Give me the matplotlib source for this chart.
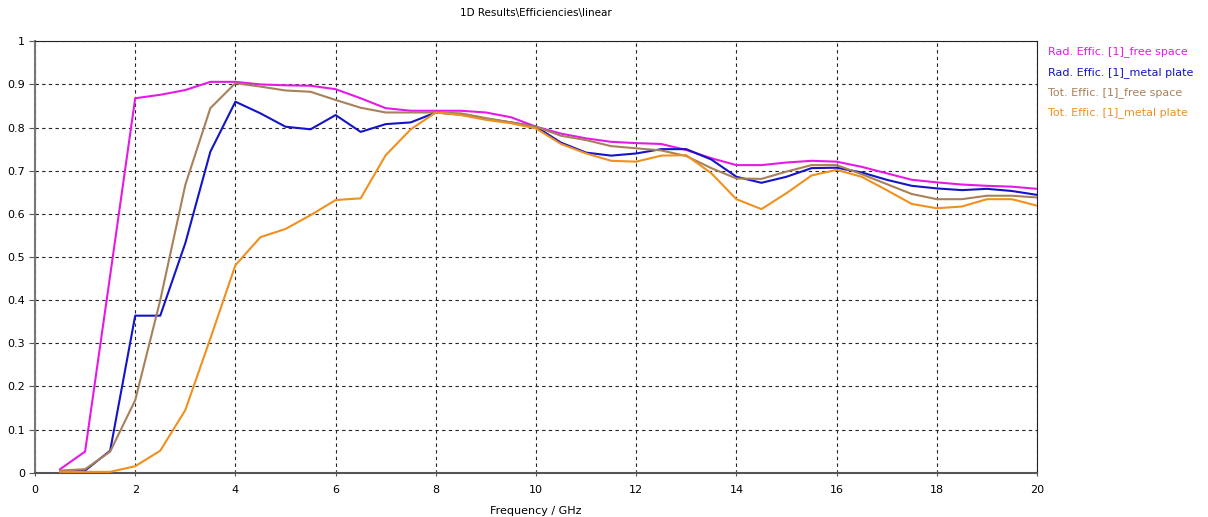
import matplotlib
matplotlib.use("Agg")
import matplotlib.pyplot as plt
import numpy as np

freq = [0.5, 1.0, 1.5, 2.0, 2.5, 3.0, 3.5, 4.0, 4.5, 5.0, 5.5, 6.0, 6.5, 7.0, 7.5, 8.0,
        8.5, 9.0, 9.5, 10.0, 10.5, 11.0, 11.5, 12.0, 12.5, 13.0, 13.5, 14.0, 14.5, 15.0,
        15.5, 16.0, 16.5, 17.0, 17.5, 18.0, 18.5, 19.0, 19.5, 20.0]

rad_free = [0.008, 0.049, 0.457, 0.868, 0.876, 0.887, 0.906, 0.906, 0.900, 0.898, 0.897,
            0.889, 0.868, 0.845, 0.839, 0.839, 0.839, 0.835, 0.824, 0.802, 0.786, 0.775,
            0.767, 0.764, 0.762, 0.748, 0.729, 0.713, 0.713, 0.719, 0.723, 0.721, 0.709,
            0.694, 0.679, 0.673, 0.668, 0.665, 0.663, 0.658]

rad_metal = [0.002, 0.005, 0.051, 0.364, 0.364, 0.532, 0.744, 0.860, 0.833, 0.802, 0.796,
             0.829, 0.790, 0.808, 0.812, 0.835, 0.830, 0.820, 0.812, 0.802, 0.765, 0.742,
             0.735, 0.740, 0.750, 0.750, 0.726, 0.686, 0.672, 0.686, 0.706, 0.707, 0.696,
             0.679, 0.665, 0.659, 0.655, 0.658, 0.653, 0.644]

tot_free = [0.005, 0.008, 0.049, 0.168, 0.400, 0.667, 0.845, 0.903, 0.895, 0.886, 0.883,
            0.864, 0.846, 0.835, 0.835, 0.835, 0.833, 0.822, 0.812, 0.802, 0.781, 0.771,
            0.757, 0.752, 0.747, 0.734, 0.706, 0.682, 0.681, 0.698, 0.713, 0.713, 0.692,
            0.669, 0.646, 0.634, 0.634, 0.642, 0.642, 0.638]

tot_metal = [0.002, 0.002, 0.002, 0.015, 0.051, 0.145, 0.311, 0.481, 0.546, 0.565, 0.597,
             0.632, 0.636, 0.736, 0.796, 0.835, 0.829, 0.818, 0.810, 0.798, 0.762, 0.740,
             0.723, 0.721, 0.735, 0.736, 0.694, 0.634, 0.611, 0.648, 0.689, 0.702, 0.686,
             0.655, 0.623, 0.613, 0.617, 0.634, 0.634, 0.619]

labels = ["Rad. Effic. [1]_free space", "Rad. Effic. [1]_metal plate",
          "Tot. Effic. [1]_free space", "Tot. Effic. [1]_metal plate"]
colors = ["#e619e6", "#1414c8", "#a8805a", "#f0901e"]
series = [rad_free, rad_metal, tot_free, tot_metal]

xticks = [0, 2, 4, 6, 8, 10, 12, 14, 16, 18, 20]
yticks = [0, 0.1, 0.2, 0.3, 0.4, 0.5, 0.6, 0.7, 0.8, 0.9, 1]
ytick_labels = ["0", "0.1", "0.2", "0.3", "0.4", "0.5", "0.6", "0.7", "0.8", "0.9", "1"]

plt.rcParams['font.family'] = ['DejaVu Sans']
fig = plt.figure(figsize=(12.08, 5.17), dpi=100)
ax = fig.add_axes([35/1208, (517-472.7)/517, (1037-35)/1208, (472.7-41.3)/517])

for y, c in zip(series, colors):
    ax.plot(freq, y, color=c, lw=1.5, zorder=3)

ax.set_xlim(0, 20)
ax.set_ylim(0, 1)
ax.set_xticks(xticks)
ax.set_xticklabels([str(t) for t in xticks])
ax.set_yticks(yticks)
ax.set_yticklabels(ytick_labels)
ax.tick_params(labelsize=8, width=0.8, color="#555555")
ax.tick_params(axis="x", direction="inout", length=5, pad=6)
ax.tick_params(axis="y", direction="out", length=4, pad=3)
ax.grid(True, color="#222222", linestyle=(0, (3, 3)), linewidth=0.8)
for s in ["top", "right"]:
    ax.spines[s].set_color("#222222")
    ax.spines[s].set_linewidth(0.8)
ax.spines["left"].set_color("#777777")
ax.spines["left"].set_linewidth(1.5)
ax.spines["bottom"].set_color("#555555")
ax.spines["bottom"].set_linewidth(1.5)

ax.set_xlabel("Frequency / GHz", fontsize=8, labelpad=8)
fig.text(0.5 * (35 + 1037) / 1208, 1 - 13/517, "1D Results\\Efficiencies\\linear",
         ha="center", va="center", fontsize=7.5)

leg_y = [52, 73, 93, 113]
for lab, c, yy in zip(labels, colors, leg_y):
    fig.text(1048/1208, 1 - yy/517, lab, color=c, fontsize=8, ha="left", va="center")

fig.savefig("out.png", dpi=100)
